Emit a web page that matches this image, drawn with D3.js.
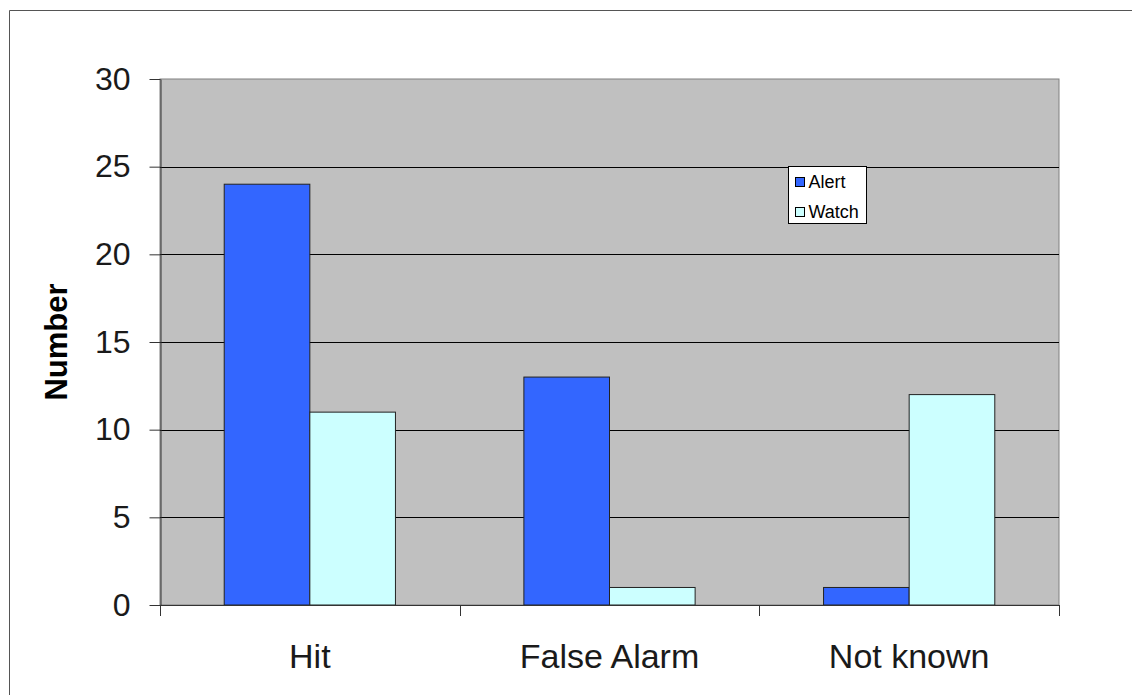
<!DOCTYPE html>
<html>
<head>
<meta charset="utf-8">
<script src="https://cdn.jsdelivr.net/npm/d3@7"></script>
<style>
  html, body { margin: 0; padding: 0; background: #fff; }
  svg { display: block; font-family: "Liberation Sans", Arial, sans-serif; }
</style>
</head>
<body>
<svg id="chart" width="1132" height="695"></svg>
<script>
// Forecast outcome counts by category
const categories = ["Hit", "False Alarm", "Not known"];
const seriesNames = ["Alert", "Watch"];
const alertValues = [24, 13, 1];
const watchValues = [11, 1, 12];
const yTicks = [0, 5, 10, 15, 20, 25, 30];
const seriesColors = ["#3366FF", "#CCFFFF"];

const seriesValues = [alertValues, watchValues];
const rows = categories.map((c, i) => ({
  category: c,
  values: seriesNames.map((s, j) => ({ series: s, value: seriesValues[j][i], color: seriesColors[j] }))
}));

const svg = d3.select("#chart");
const plot = { left: 160, right: 1059, top: 79, bottom: 605 };

// Outer chart frame
svg.append("path")
  .attr("d", "M9.5,700 V10.5 H1140")
  .attr("fill", "none")
  .attr("stroke", "#555")
  .attr("stroke-width", 1);

const y = d3.scaleLinear().domain([0, 30]).range([plot.bottom, plot.top]);
const x0 = d3.scaleBand().domain(categories).range([plot.left, plot.right]).padding(0);
const x1 = d3.scaleBand().domain(seriesNames).range([0, x0.bandwidth()])
  .paddingInner(0).paddingOuter(0.75);

// Plot background
svg.append("rect")
  .attr("x", plot.left).attr("y", plot.top)
  .attr("width", plot.right - plot.left).attr("height", plot.bottom - plot.top)
  .attr("fill", "#C0C0C0")
  .attr("stroke", "#808080").attr("stroke-width", 1);

// Horizontal gridlines
svg.append("g")
  .selectAll("line")
  .data(yTicks.filter(t => t > 0 && t < 30))
  .join("line")
  .attr("x1", plot.left).attr("x2", plot.right)
  .attr("y1", d => Math.round(y(d)) + 0.5).attr("y2", d => Math.round(y(d)) + 0.5)
  .attr("stroke", "#000").attr("stroke-width", 1);

// Bars
const groups = svg.append("g")
  .selectAll("g")
  .data(rows)
  .join("g")
  .attr("transform", d => `translate(${x0(d.category)},0)`);

groups.selectAll("rect")
  .data(d => d.values)
  .join("rect")
  .attr("x", d => x1(d.series))
  .attr("y", d => y(d.value))
  .attr("width", x1.bandwidth())
  .attr("height", d => y(0) - y(d.value))
  .attr("fill", d => d.color)
  .attr("stroke", "#222")
  .attr("stroke-width", 1);

// Y axis
const yAxis = svg.append("g")
  .attr("transform", `translate(${plot.left + 0.5},0)`)
  .call(d3.axisLeft(y).tickValues(yTicks).tickSize(11).tickPadding(19).tickSizeOuter(0));
yAxis.select(".domain").attr("stroke", "#333");
yAxis.selectAll(".tick line").attr("stroke", "#333");
yAxis.selectAll(".tick text")
  .attr("font-family", "'Liberation Sans', Arial, sans-serif")
  .attr("font-size", 32)
  .attr("fill", "#1a1a1a");

// X axis
const xAxis = svg.append("g")
  .attr("transform", `translate(0,${plot.bottom + 0.5})`)
  .call(d3.axisBottom(x0).tickSize(0).tickPadding(38));
xAxis.select(".domain").attr("stroke", "#333").attr("d", `M${plot.left},0H${plot.right}`);
xAxis.selectAll(".tick text")
  .attr("font-family", "'Liberation Sans', Arial, sans-serif")
  .attr("font-size", 34)
  .attr("fill", "#1a1a1a");

// Category separators
const boundaries = categories.map(c => x0(c)).concat([plot.right]);
svg.append("g")
  .selectAll("line")
  .data(boundaries)
  .join("line")
  .attr("x1", d => Math.round(d) + 0.5).attr("x2", d => Math.round(d) + 0.5)
  .attr("y1", plot.bottom).attr("y2", plot.bottom + 11)
  .attr("stroke", "#333");

// Y axis title
svg.append("text")
  .attr("transform", `translate(67,${(plot.top + plot.bottom) / 2}) rotate(-90)`)
  .attr("text-anchor", "middle")
  .attr("font-size", 31)
  .attr("font-weight", "bold")
  .attr("fill", "#000")
  .text("Number");

// Legend
const legend = svg.append("g").attr("transform", "translate(788.5,166.5)");
legend.append("rect")
  .attr("width", 78).attr("height", 57)
  .attr("fill", "#fff").attr("stroke", "#000").attr("stroke-width", 1);
const items = legend.selectAll("g.item")
  .data(seriesNames.map((s, i) => ({ name: s, color: seriesColors[i] })))
  .join("g")
  .attr("class", "item")
  .attr("transform", (d, i) => `translate(7,${11 + i * 30})`);
items.append("rect")
  .attr("width", 9).attr("height", 9)
  .attr("fill", d => d.color).attr("stroke", "#000");
items.append("text")
  .attr("x", 13).attr("y", 10)
  .attr("font-size", 18)
  .attr("fill", "#000")
  .text(d => d.name);
</script>
</body>
</html>
